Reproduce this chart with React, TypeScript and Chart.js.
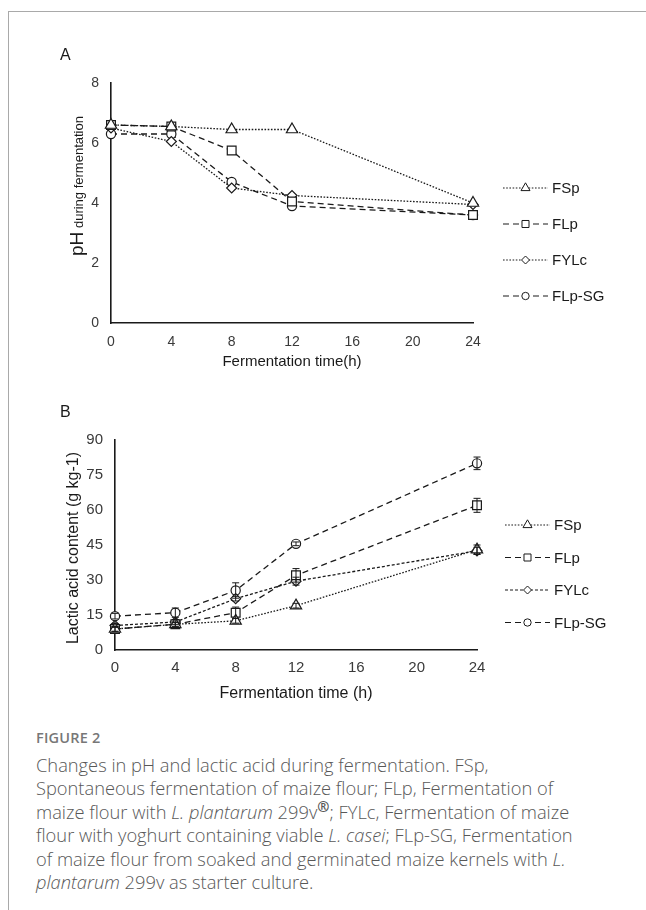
import React, { useEffect, useRef } from "react";
import { Chart, registerables } from "chart.js";
import { drawPoint } from "chart.js/helpers";

Chart.register(...registerables);

// ---------- data ----------
const hours = [0, 4, 8, 12, 24];
const xTickValues = [0, 4, 8, 12, 16, 20, 24];
const phTickValues = [0, 2, 4, 6, 8];
const laTickValues = [0, 15, 30, 45, 60, 75, 90];
const seriesNames = ["FSp", "FLp", "FYLc", "FLp-SG"];

const phFSp = [6.6, 6.55, 6.45, 6.45, 4.0];
const phFLp = [6.6, 6.55, 5.75, 4.05, 3.6];
const phFYLc = [6.5, 6.05, 4.5, 4.25, 3.95];
const phFLpSG = [6.3, 6.3, 4.7, 3.9, 3.6];

const laFSp = [9, 11, 12.5, 19, 43];
const laFLp = [9, 11, 16, 32, 62];
const laFYLc = [10.5, 12, 22, 29.5, 42.5];
const laFLpSG = [14.5, 16, 25.5, 45.5, 80];

const laErrFSp = [1, 0.8, 1, 1, 2];
const laErrFLp = [1, 1, 2.4, 2.9, 3];
const laErrFYLc = [0.8, 1, 1, 1.7, 1.5];
const laErrFLpSG = [1.2, 2, 3.3, 0.8, 2.7];

// ---------- styles ----------
const INK = "#1a1a1a";
const TICK = "#3a3a3a";
const FONT = "'Liberation Sans', Arial, sans-serif";

const styleFSp = { borderDash: [1.6, 1.6], pointStyle: "triangle", pointRadius: 6.5 };
const styleFLp = { borderDash: [6, 4], pointStyle: "rect", pointRadius: 6.2 };
const styleFYLc = { borderDash: [1.6, 1.6], pointStyle: "rectRot", pointRadius: 5 };
const styleFYLcB = { borderDash: [3, 2], pointStyle: "rectRot", pointRadius: 5 };
const styleFLpSG = { borderDash: [6, 4], pointStyle: "circle", pointRadius: 4.6 };

function makeDataset(label: string, values: number[], style: any, errors?: number[]) {
  return {
    label,
    data: hours.map((h, i) => ({ x: h, y: values[i] })),
    errors,
    borderColor: INK,
    borderWidth: 1.3,
    borderDash: style.borderDash,
    pointStyle: style.pointStyle,
    pointRadius: style.pointRadius,
    pointBorderWidth: 1.2,
    pointBorderColor: INK,
    pointBackgroundColor: "#ffffff",
    fill: false,
    tension: 0,
    clip: false as const,
  };
}

// ---------- plugins ----------
const errorBarPlugin = {
  id: "errorBars",
  afterDatasetsDraw(chart: any) {
    const { ctx } = chart;
    const xs = chart.scales.x;
    const ys = chart.scales.y;
    chart.data.datasets.forEach((ds: any) => {
      if (!ds.errors) return;
      ctx.save();
      ctx.strokeStyle = INK;
      ctx.lineWidth = 1;
      ctx.setLineDash([]);
      ds.data.forEach((pt: any, j: number) => {
        const e = ds.errors[j];
        if (!e) return;
        const px = xs.getPixelForValue(pt.x);
        const t = ys.getPixelForValue(pt.y + e);
        const b = ys.getPixelForValue(pt.y - e);
        ctx.beginPath();
        ctx.moveTo(px, t);
        ctx.lineTo(px, b);
        ctx.moveTo(px - 3.5, t);
        ctx.lineTo(px + 3.5, t);
        ctx.moveTo(px - 3.5, b);
        ctx.lineTo(px + 3.5, b);
        ctx.stroke();
      });
      ctx.restore();
    });
  },
};

const lineLegendPlugin = {
  id: "lineLegend",
  afterDraw(chart: any, _args: any, opts: any) {
    if (!opts || !opts.display) return;
    const { ctx } = chart;
    chart.data.datasets.forEach((ds: any, i: number) => {
      const y = opts.y + i * opts.gap;
      ctx.save();
      ctx.strokeStyle = INK;
      ctx.lineWidth = 1.1;
      ctx.setLineDash(ds.borderDash || []);
      ctx.beginPath();
      ctx.moveTo(opts.x, y);
      ctx.lineTo(opts.x + opts.len, y);
      ctx.stroke();
      ctx.setLineDash([]);
      ctx.fillStyle = "#ffffff";
      ctx.strokeStyle = INK;
      ctx.lineWidth = 1;
      drawPoint(
        ctx,
        { pointStyle: ds.pointStyle, radius: ds.pointRadius * 0.8, rotation: 0, borderWidth: 1 } as any,
        opts.x + opts.len / 2,
        y
      );
      ctx.fillStyle = INK;
      ctx.font = `${opts.fontSize}px ${FONT}`;
      ctx.textAlign = "left";
      ctx.textBaseline = "middle";
      ctx.fillText(ds.label, opts.x + opts.len + 4, y + 1);
      ctx.restore();
    });
  },
};

const axisTitlePlugin = {
  id: "axisTitles",
  afterDraw(chart: any, _args: any, opts: any) {
    if (!opts || !opts.display) return;
    const { ctx, chartArea } = chart;
    ctx.save();
    ctx.fillStyle = INK;
    if (opts.x) {
      ctx.font = `${opts.x.size}px ${FONT}`;
      ctx.textAlign = "center";
      ctx.textBaseline = "middle";
      ctx.fillText(opts.x.text, (chartArea.left + chartArea.right) / 2, chartArea.bottom + opts.x.offset);
    }
    if (opts.y) {
      const parts = opts.y.parts as { text: string; size: number }[];
      const widths = parts.map((p) => {
        ctx.font = `${p.size}px ${FONT}`;
        return ctx.measureText(p.text).width;
      });
      const total = widths.reduce((a, b) => a + b, 0);
      ctx.translate(opts.y.baselineX, opts.y.cy);
      ctx.rotate(-Math.PI / 2);
      ctx.textAlign = "left";
      ctx.textBaseline = "alphabetic";
      let cur = -total / 2;
      parts.forEach((p, i) => {
        ctx.font = `${p.size}px ${FONT}`;
        ctx.fillText(p.text, cur, 0);
        cur += widths[i];
      });
    }
    ctx.restore();
  },
};

function makeConfig(opts: {
  datasets: any[];
  yMax: number;
  yTicks: number[];
  left: number;
  right: number;
  top: number;
  axisH: number;
  tickSize: number;
  xPad: number;
  legend: any;
  titles: any;
}) {
  return {
    type: "line" as const,
    data: { datasets: opts.datasets },
    options: {
      animation: false as const,
      responsive: false,
      devicePixelRatio: 1,
      layout: { padding: { left: 0, right: opts.right, top: opts.top, bottom: 0 } },
      plugins: {
        legend: { display: false },
        tooltip: { enabled: false },
        lineLegend: opts.legend,
        axisTitles: opts.titles,
      },
      scales: {
        x: {
          type: "linear" as const,
          min: 0,
          max: 24,
          grid: { display: false, drawTicks: false },
          border: { display: true, color: INK, width: 1.6 },
          ticks: { padding: opts.xPad, color: TICK, font: { family: FONT, size: opts.tickSize } },
          afterBuildTicks: (s: any) => {
            s.ticks = xTickValues.map((v) => ({ value: v }));
          },
          afterFit: (s: any) => {
            s.height = opts.axisH;
          },
        },
        y: {
          type: "linear" as const,
          min: 0,
          max: opts.yMax,
          grid: { display: false, drawTicks: false },
          border: { display: true, color: INK, width: 1.6 },
          ticks: { padding: 12, color: TICK, font: { family: FONT, size: opts.tickSize } },
          afterBuildTicks: (s: any) => {
            s.ticks = opts.yTicks.map((v) => ({ value: v }));
          },
          afterFit: (s: any) => {
            s.width = opts.left;
          },
        },
      },
    },
    plugins: [errorBarPlugin, lineLegendPlugin, axisTitlePlugin],
  };
}

function ChartCanvas({ config, width, height, style }: any) {
  const ref = useRef<HTMLCanvasElement>(null);
  useEffect(() => {
    const chart = new Chart(ref.current as HTMLCanvasElement, config() as any);
    return () => chart.destroy();
  }, []);
  return <canvas ref={ref} width={width} height={height} style={{ position: "absolute", ...style }} />;
}

const W = 646;
const H_CANVAS = 320;

function configA() {
  return makeConfig({
    datasets: [
      makeDataset(seriesNames[0], phFSp, styleFSp),
      makeDataset(seriesNames[1], phFLp, styleFLp),
      makeDataset(seriesNames[2], phFYLc, styleFYLc),
      makeDataset(seriesNames[3], phFLpSG, styleFLpSG),
    ],
    yMax: 8,
    yTicks: phTickValues,
    left: 111,
    right: W - 473,
    top: 23,
    axisH: H_CANVAS - 263,
    tickSize: 14,
    xPad: 11,
    legend: { display: true, x: 503, y: 128, gap: 36, len: 45, fontSize: 15 },
    titles: {
      display: true,
      x: { text: "Fermentation time(h)", size: 15, offset: 39 },
      y: {
        baselineX: 83,
        cy: 126,
        parts: [
          { text: "pH", size: 19 },
          { text: " during fermentation", size: 13 },
        ],
      },
    },
  });
}

function configB() {
  return makeConfig({
    datasets: [
      makeDataset(seriesNames[0], laFSp, styleFSp, laErrFSp),
      makeDataset(seriesNames[1], laFLp, styleFLp, laErrFLp),
      makeDataset(seriesNames[2], laFYLc, styleFYLcB, laErrFYLc),
      makeDataset(seriesNames[3], laFLpSG, styleFLpSG, laErrFLpSG),
    ],
    yMax: 90,
    yTicks: laTickValues,
    left: 115,
    right: W - 477,
    top: 40,
    axisH: H_CANVAS - 250,
    tickSize: 15,
    xPad: 9,
    legend: { display: true, x: 505, y: 125, gap: 32.5, len: 45, fontSize: 15 },
    titles: {
      display: true,
      x: { text: "Fermentation time (h)", size: 16, offset: 44 },
      y: {
        baselineX: 78,
        cy: 148,
        parts: [{ text: "Lactic acid content (g kg-1)", size: 16 }],
      },
    },
  });
}

export default function App() {
  const capLine: React.CSSProperties = { display: "block" };
  return (
    <div
      style={{
        position: "absolute",
        left: 0,
        top: 0,
        width: W,
        height: 910,
        background: "#ffffff",
        overflow: "hidden",
      }}
    >
      <div
        style={{
          position: "absolute",
          left: 8,
          top: 11,
          right: 0,
          bottom: 0,
          borderTop: "1px solid #a9a9a9",
          borderLeft: "1px solid #a9a9a9",
        }}
      />
      <ChartCanvas config={configA} width={W} height={H_CANVAS} style={{ left: 0, top: 60 }} />
      <ChartCanvas config={configB} width={W} height={H_CANVAS} style={{ left: 0, top: 400 }} />
      <div style={{ position: "absolute", left: 60, top: 46, font: `16px ${FONT}`, color: INK }}>A</div>
      <div style={{ position: "absolute", left: 60, top: 403, font: `16px ${FONT}`, color: INK }}>B</div>
      <div
        style={{
          position: "absolute",
          left: 36,
          top: 728,
          fontFamily: "'Open Sans', sans-serif",
          fontWeight: 600,
          fontSize: 14.5,
          color: "#777777",
          letterSpacing: 0.2,
        }}
      >
        FIGURE 2
      </div>
      <div
        style={{
          position: "absolute",
          left: 36,
          top: 753,
          fontFamily: "'Open Sans', sans-serif",
          fontWeight: 300,
          fontSize: 18.3,
          lineHeight: "23.4px",
          color: "#585858",
          whiteSpace: "nowrap",
        }}
      >
        <span style={capLine}>Changes in pH and lactic acid during fermentation. FSp,</span>
        <span style={capLine}>Spontaneous fermentation of maize flour; FLp, Fermentation of</span>
        <span style={capLine}>
          maize flour with <i>L. plantarum</i> 299v
          <sup style={{ fontSize: "0.8em", fontWeight: 700, lineHeight: 0 }}>®</sup>; FYLc, Fermentation of maize
        </span>
        <span style={capLine}>
          flour with yoghurt containing viable <i>L. casei</i>; FLp-SG, Fermentation
        </span>
        <span style={capLine}>
          of maize flour from soaked and germinated maize kernels with <i>L.</i>
        </span>
        <span style={capLine}>
          <i>plantarum</i> 299v as starter culture.
        </span>
      </div>
    </div>
  );
}
